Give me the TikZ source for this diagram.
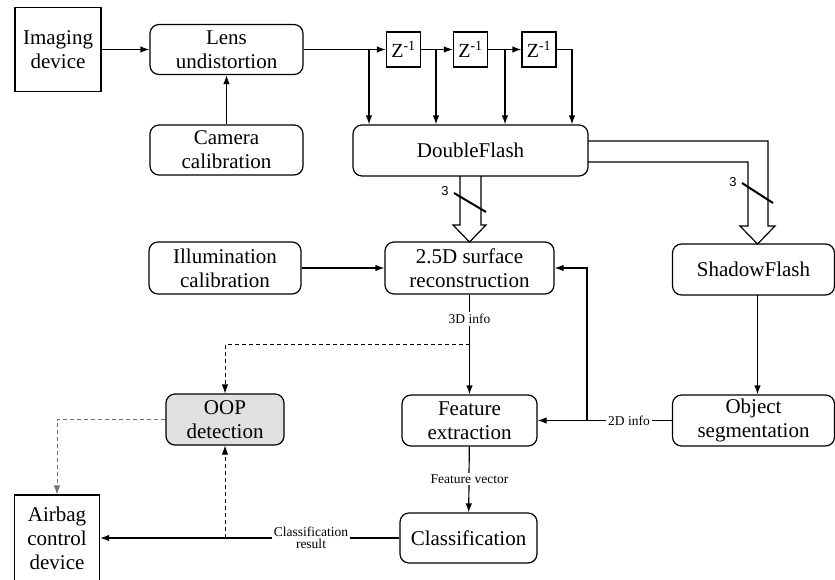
\documentclass[tikz,border=0pt]{standalone}
\usepackage{fontspec}
\setmainfont{Liberation Serif}
\newfontfamily\lserif{Liberation Serif}
\newfontfamily\lsans{Liberation Sans}
\usetikzlibrary{arrows.meta}
\begin{document}
\begin{tikzpicture}[x=1pt,y=-1pt,
  every node/.style={inner sep=0pt},
  blk/.style={draw, line width=1.2pt, align=center, font=\lserif\fontsize{21}{24}\selectfont},
  rblk/.style={blk, rounded corners=9pt},
  zbox/.style={draw, line width=1.2pt, minimum width=34pt, minimum height=35pt, font=\lserif\fontsize{20}{24}\selectfont},
  ln/.style={line width=1.2pt},
  arr/.style={ln, -{Latex[length=9pt,width=6.5pt]}},
  dsh/.style={arr, line width=0.8pt, dash pattern=on 4pt off 3pt},
  lbl/.style={fill=white, font=\lserif\fontsize{13.5}{14}\selectfont, align=center, inner sep=2pt},
  num/.style={font=\lsans\fontsize{13}{15}\selectfont}
]
\useasboundingbox (0,0) rectangle (835,579);

% blocks
\node[blk, minimum width=86pt, minimum height=84pt] (img) at (58,49.5) {Imaging\\device};
\node[rblk, minimum width=153pt, minimum height=50pt] (lens) at (226.5,49.5) {Lens\\undistortion};
\node[rblk, minimum width=153pt, minimum height=50pt] (cam) at (226.5,150) {Camera\\calibration};
\node[zbox] (z1) at (403.5,49.5) {Z\textsuperscript{-1}};
\node[zbox] (z2) at (470.5,49.5) {Z\textsuperscript{-1}};
\node[zbox] (z3) at (539,49.5) {Z\textsuperscript{-1}};
\node[rblk, minimum width=235pt, minimum height=51pt] (df) at (470.5,150.5) {DoubleFlash};
\node[rblk, minimum width=152pt, minimum height=52pt] (ill) at (225,268) {Illumination\\calibration};
\node[rblk, minimum width=169pt, minimum height=52pt] (rec) at (469.5,268) {2.5D surface\\reconstruction};
\node[rblk, minimum width=162pt, minimum height=51pt] (sf) at (753.5,269.5) {ShadowFlash};
\node[rblk, minimum width=118pt, minimum height=51pt, fill=black!12] (oop) at (225,419.5) {OOP\\detection};
\node[rblk, minimum width=135pt, minimum height=51pt] (fe) at (469.5,420.5) {Feature\\extraction};
\node[rblk, minimum width=162pt, minimum height=51pt] (os) at (753.5,420.5) {Object\\segmentation};
\node[rblk, minimum width=137pt, minimum height=50pt] (cls) at (468.5,538) {Classification};
\node[blk, minimum width=85pt, minimum height=86pt] (air) at (57,538) {Airbag\\control\\device};

% top chain
\draw[arr] (img) -- (lens);
\draw[arr] (cam) -- (lens);
\draw[arr] (lens) -- (z1);
\draw[arr] (z1) -- (z2);
\draw[arr] (z2) -- (z3);
\coordinate (b1) at (369,49.5);
\coordinate (b2) at (436,49.5);
\coordinate (b3) at (505,49.5);
\coordinate (b4) at (572,49.5);
\draw[arr] (b1) -- (b1 |- df.north);
\draw[arr] (b2) -- (b2 |- df.north);
\draw[arr] (b3) -- (b3 |- df.north);
\draw[arr] (z3.east) -- (b4) -- (b4 |- df.north);

% bus arrow down to reconstruction
\draw[ln] (460,176) -- (460,225) -- (453,225) -- (469.5,242) -- (486,225) -- (481,225) -- (481,176);
\draw[line width=2pt] (454,193) -- (486,212);
\node[num] (n1) at (445,191) {3};

% bus arrow to ShadowFlash
\draw[ln] (588,141) -- (768,141) -- (768,226) -- (775,226) -- (757.5,244) -- (740,226) -- (748,226) -- (748,162) -- (588,162);
\draw[line width=2pt] (742,183) -- (773,203);
\node[num] (n2) at (733,182) {3};

% middle
\draw[arr] (ill) -- (rec);
\draw[arr] (rec) -- (fe);
\node[lbl] (l3d) at (469.5,319) {3D info};
\coordinate (d1) at (469.5,344);
\draw[dsh] (d1) -- (d1 -| oop.north) -- (oop.north);
\coordinate (sfx) at (757.5,295);
\draw[arr] (sfx) -- (sfx |- os.north);
\draw[arr] (os.west) -- (fe.east);
\coordinate (fb) at (587,420.5);
\draw[arr] (fb) -- (fb |- rec.east) -- (rec.east);
\node[lbl] (l2d) at (629,420.5) {2D info};

% bottom
\draw[arr] (fe) -- (cls);
\node[lbl] (lfv) at (469.5,479) {Feature vector};
\draw[arr] (cls) -- (air);
\draw[dsh] (oop.south |- cls.west) -- (oop.south);
\node[lbl] (lcr) at (311,538) {Classification\\[-2pt]result};
\draw[dsh, draw=black!55] (oop.west) -- (oop.west -| air.north) -- (air.north);
\end{tikzpicture}
\end{document}
